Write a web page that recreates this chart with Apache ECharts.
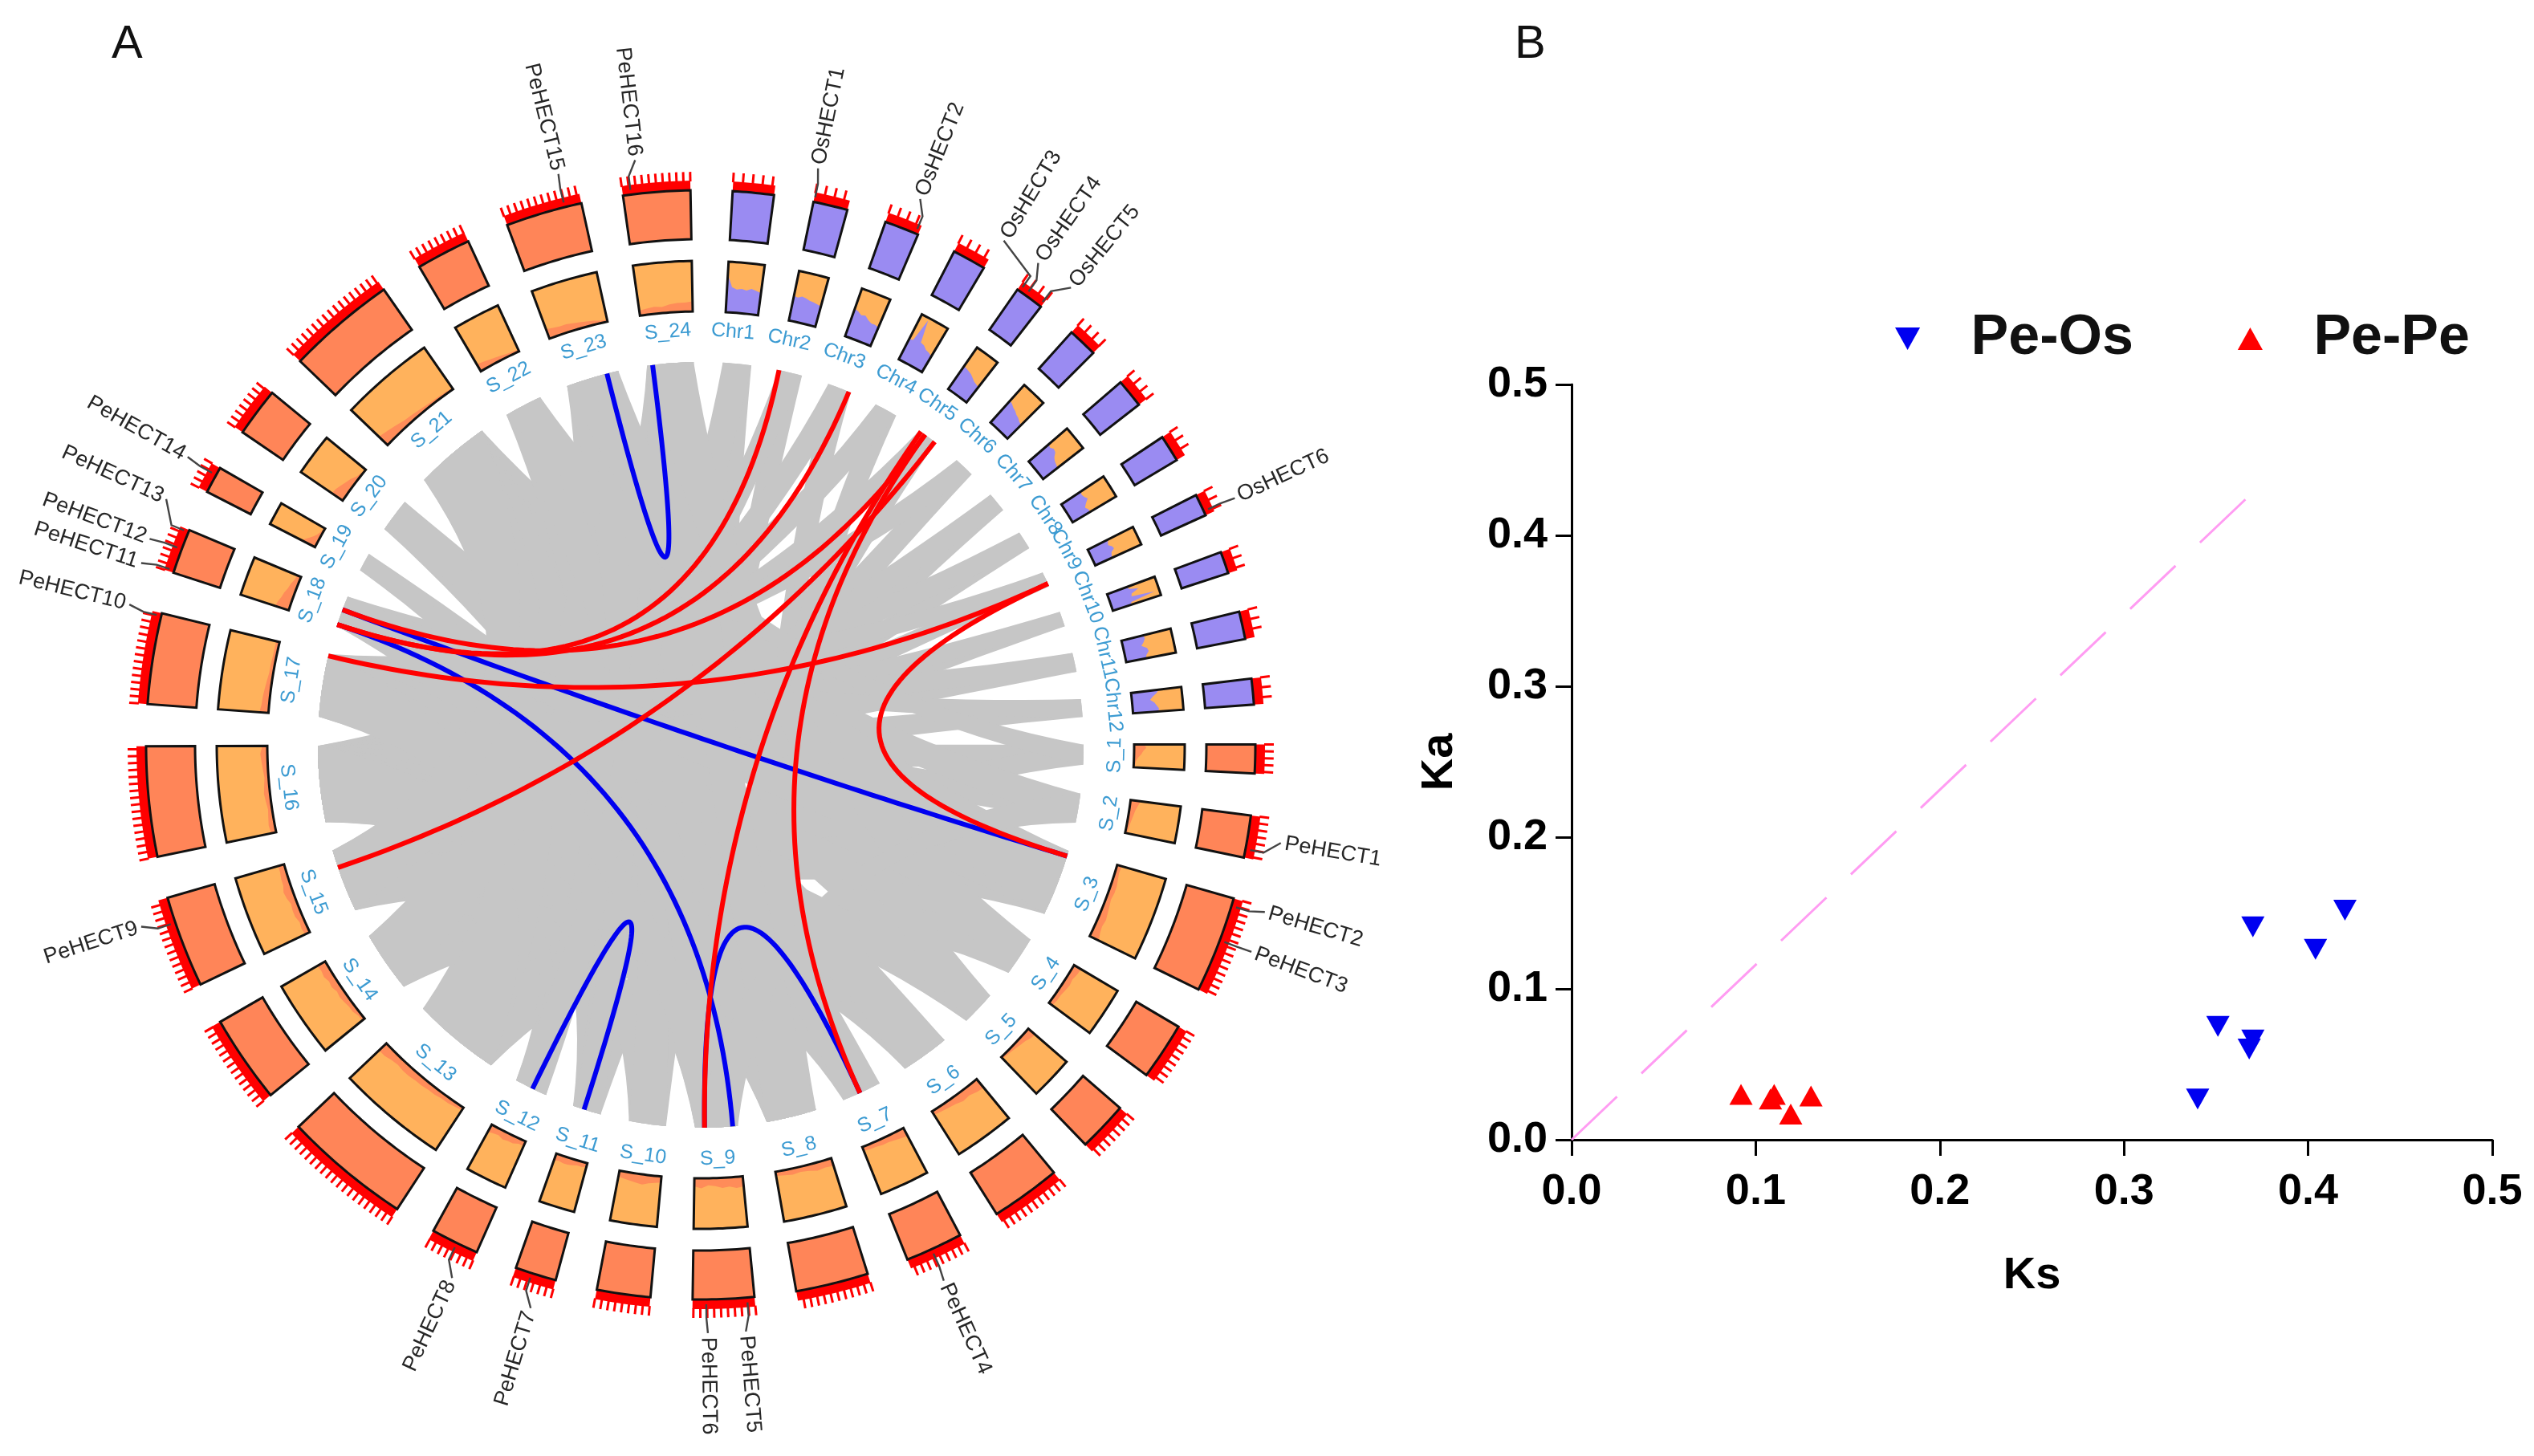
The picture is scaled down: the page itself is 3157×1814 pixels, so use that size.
<!DOCTYPE html>
<html><head><meta charset="utf-8">
<style>html,body{margin:0;padding:0;background:#fff}#c{width:3157px;height:1814px}</style>
<script src="https://cdn.jsdelivr.net/npm/echarts@6/dist/echarts.min.js"></script>
</head><body><div id="c"></div>
<script>
// ---------- Panel A data ----------
const sectorNames = ['Chr1','Chr2','Chr3','Chr4','Chr5','Chr6','Chr7','Chr8','Chr9','Chr10','Chr11','Chr12',
  'S_1','S_2','S_3','S_4','S_5','S_6','S_7','S_8','S_9','S_10','S_11','S_12','S_13','S_14','S_15','S_16','S_17','S_18','S_19','S_20','S_21','S_22','S_23','S_24'];
const sectorLengths = [43,36,36,35,30,31,30,28,23,23,29,27,
  30,44,101,60,52,73,60,76,64,56,43,50,133,92,96,115,95,47,28,51,114,57,80,70];
// fraction of the inner-track height taken by the second colour, along each sector
const innerProfile = [
 [.75,.5,.46,.48,.46,.5,.47,.44],[.5,.48,.52,.5,.47,.46,.44,.42],[.58,.55,.5,.52,.46,.42,.42,.4],[.45,.47,.95,.5,.48,.42,.4,.36],
 [.55,.54,.52,.5,.46,.42,.4,.38],[.58,.56,.52,.5,.46,.44,.4,.38],[.52,.5,.54,.52,.44,.4,.38,.36],[.46,.44,.46,.5,.42,.36,.4,.4],
 [.45,.42,.4,.46,.48,.4,.38,.36],[.42,.44,.62,.46,.44,.9,.4,.38],[.44,.46,.42,.36,.46,.48,.42,.4],[.55,.5,.42,.36,.44,.48,.52,.5],
 [.2,.24,.18,.14,.08,.04,.03,.03],[.2,.16,.12,.1,.08,.06,.05,.04],[.1,.08,.1,.12,.12,.1,.12,.14,.16,.14,.16,.2],[.16,.15,.12,.14,.12,.1,.1,.08],
 [.18,.16,.12,.1,.08,.06,.05,.04],[.22,.2,.16,.18,.14,.12,.1,.08],[.18,.16,.14,.12,.12,.1,.1,.08],[.16,.14,.16,.12,.1,.12,.1,.08],
 [.2,.22,.18,.2,.16,.14,.2,.16],[.12,.14,.16,.2,.18,.16,.14,.12],[.08,.1,.1,.12,.14,.14,.12,.14],[.1,.1,.14,.14,.16,.12,.14,.16],
 [.06,.08,.1,.1,.12,.12,.14,.14,.16,.16,.14,.16,.2,.2],[.06,.06,.1,.1,.12,.14,.12,.16,.14,.18,.16,.18],[.1,.12,.1,.14,.14,.12,.16,.18,.14,.14,.12,.12],[.1,.12,.1,.08,.1,.12,.1,.08,.1,.12,.14,.1],
 [.18,.15,.14,.12,.1,.08,.08,.07,.07,.07],[.28,.26,.22,.2,.16,.14,.1,.08],[.3,.24,.18,.12,.08,.05,.03,.02],[.26,.24,.2,.16,.12,.06,.03,.02],
 [.24,.2,.16,.12,.1,.08,.06,.05,.04,.03],[.16,.14,.12,.1,.08,.06,.05,.04],[.2,.18,.16,.16,.14,.12,.1,.08,.05,.04],[.1,.12,.14,.12,.16,.18,.18,.2]
];
// gene name, sector, position inside the sector (0..1)
const geneNames = ['PeHECT1','PeHECT2','PeHECT3','PeHECT4','PeHECT5','PeHECT6','PeHECT7','PeHECT8','PeHECT9','PeHECT10','PeHECT11','PeHECT12','PeHECT13','PeHECT14','PeHECT15','PeHECT16','OsHECT1','OsHECT2','OsHECT3','OsHECT4','OsHECT5','OsHECT6'];
const geneSectors = ['S_2','S_3','S_3','S_7','S_9','S_9','S_11','S_12','S_15','S_17','S_18','S_18','S_18','S_19','S_23','S_24','Chr2','Chr3','Chr5','Chr5','Chr5','Chr9'];
const genePositions = [.8,.08,.45,.55,.12,.78,.6,.45,.72,.97,.05,.55,.95,.7,.78,.12,.02,.92,.1,.35,.95,.8];
// collinear blocks drawn in grey
const greyLinks = [
 ['Chr1','S_9'],['Chr1','S_13'],['Chr2','S_10'],['Chr2','S_14'],['Chr3','S_8'],['Chr3','S_15'],['Chr4','S_9'],['Chr4','S_16'],
 ['Chr5','S_11'],['Chr5','S_16'],['Chr6','S_13'],['Chr6','S_17'],['Chr7','S_13'],['Chr7','S_15'],['Chr8','S_14'],['Chr8','S_16'],
 ['Chr9','S_15'],['Chr9','S_17'],['Chr10','S_15'],['Chr10','S_16'],['Chr11','S_16'],['Chr11','S_17'],['Chr12','S_16'],['Chr12','S_18'],
 ['S_1','S_16'],['S_1','S_13'],['S_2','S_17'],['S_2','S_21'],['S_3','S_16'],['S_3','S_14'],['S_3','S_21'],['S_4','S_17'],['S_4','S_13'],
 ['S_5','S_15'],['S_5','S_16'],['S_6','S_14'],['S_6','S_16'],['S_6','S_17'],['S_7','S_13'],['S_7','S_21'],['S_8','S_16'],['S_8','S_21'],['S_8','S_15'],
 ['S_9','S_17'],['S_9','S_14'],['S_9','S_21'],['S_10','S_16'],['S_10','S_23'],['S_11','S_17'],['S_11','S_22'],['S_12','S_15'],['S_12','S_23'],
 ['S_13','S_21'],['S_13','S_16'],['S_14','S_23'],['S_14','S_24'],['S_15','S_24'],['S_22','S_9'],['S_20','S_8'],['S_23','S_11'],['S_24','S_12'],
 ['S_20','S_5'],['S_18','S_9'],['S_18','S_3'],['S_19','S_6'],['S_19','S_8'],['S_20','S_6'],['S_21','S_15'],['S_22','S_3'],['S_23','S_4'],['S_24','S_8'],['S_24','S_5'],
 ['S_22','S_1'],['S_2','S_9']
];
const blueLinks = [['PeHECT15','PeHECT16'],['PeHECT7','PeHECT8'],['PeHECT6','PeHECT4'],['PeHECT5','PeHECT11'],['PeHECT2','PeHECT12']];
const redLinks = [['OsHECT1','PeHECT11'],['OsHECT2','PeHECT11'],['OsHECT4','PeHECT12'],['OsHECT5','PeHECT9'],['OsHECT6','PeHECT10'],['OsHECT6','PeHECT2'],['OsHECT3','PeHECT6'],['OsHECT4','PeHECT4']];

// ---------- Panel B data ----------
const tickValues = [0,0.1,0.2,0.3,0.4,0.5];
const peOsKs = [.34,.351,.368,.37,.37,.404,.42];
const peOsKa = [.027,.075,.060,.066,.141,.126,.152];
const pePeKs = [.092,.108,.11,.119,.13];
const pePeKa = [.03,.027,.03,.017,.029];
const refKs = [0,.37];
const refKa = [0,.4286];

// ---------- Layout (not data) ----------
const GAP_RICE=4.13, GAP_SCAF=4.36, START=3.3, UNIT=0.1, RIBBON_BEND=.36;
const R={chord:477,label:516,innerIn:540,innerOut:603,outerIn:630,outerOut:691,band:703,tick:714,lead:733,text:738};
const labelNudge={Chr1:-1,Chr2:-1.2,Chr3:-1,Chr4:-.8,Chr5:-1.5,Chr6:-1.7,Chr7:-1.7,Chr8:-1.4,Chr9:-2.5,Chr10:-1.7,Chr11:-.4};
const geneLabelAngles=[99.6,106.5,110.6,155.6,175.6,179.3,196.8,205,252,283.8,288,290.5,294.7,299.3,346,353.6,11.5,21.9,31,35,39,65.2];
const tickStepRice=10, tickStepScaffold=7;
const COL={outerS:'#FF8558',purple:'#9A8BF2',orange:'#FFB25C',red:'#FF0000',grey:'#C6C6C6',blue:'#0000F0',label:'#3C9BD2',ink:'#262626'};
const FF='"Liberation Sans", Arial, sans-serif';

// ---------- Derived sector geometry ----------
const unit=UNIT;
const sectors=[];let cur=START;
sectorNames.forEach((n,i)=>{const w=sectorLengths[i]*unit;sectors.push({name:n,a0:cur,a1:cur+w,len:sectorLengths[i],i});cur+=w+(n.startsWith('Chr')?GAP_RICE:GAP_SCAF);});
const byName={};sectors.forEach(s=>byName[s.name]=s);
const mid=s=>(s.a0+s.a1)/2;
const geneAngle={};geneNames.forEach((g,i)=>{const s=byName[geneSectors[i]];geneAngle[g]=s.a0+(s.a1-s.a0)*genePositions[i];});

function rad(d){return d*Math.PI/180;}
function toPolar(x,y){let t=Math.atan2(x,y)*180/Math.PI;if(t<0)t+=360;return [Math.hypot(x,y),t];}
function curve(a,b,r,k,n){ // quadratic bezier between two rim angles, in value space
  const ax=r*Math.sin(rad(a)),ay=r*Math.cos(rad(a)),bx=r*Math.sin(rad(b)),by=r*Math.cos(rad(b));
  const cx=k*(ax+bx)/2,cy=k*(ay+by)/2,out=[];
  for(let j=0;j<=n;j++){const t=j/n,u=1-t;out.push(toPolar(u*u*ax+2*u*t*cx+t*t*bx,u*u*ay+2*u*t*cy+t*t*by));}
  return out;
}
function arc(r,a0,a1){const n=Math.max(2,Math.ceil(Math.abs(a1-a0)/.5)),o=[];for(let j=0;j<=n;j++)o.push([r,a0+(a1-a0)*j/n]);return o;}
function norm(p){return [p[0],((p[1]%360)+360)%360];}

const series=[];
const polarBase={type:'custom',coordinateSystem:'polar',silent:true,animation:false,clip:false};
// grey ribbons
series.push(Object.assign({},polarBase,{name:'blocks',z:1,data:greyLinks.map(()=>[0,0]),
  renderItem(p,api){
    const l=greyLinks[p.dataIndex],A=byName[l[0]],B=byName[l[1]];
    const pts=[].concat(arc(R.chord,A.a0,A.a1),curve(A.a1,B.a0,R.chord,RIBBON_BEND,26),arc(R.chord,B.a0,B.a1),curve(B.a1,A.a0,R.chord,RIBBON_BEND,26));
    return {type:'polygon',shape:{points:pts.map(q=>api.coord(norm(q)))},style:{fill:COL.grey,stroke:null}};
  }}));
// coloured links
const colourLinks=blueLinks.map(l=>[l[0],l[1],COL.blue]).concat(redLinks.map(l=>[l[0],l[1],COL.red]));
series.push(Object.assign({},polarBase,{name:'links',z:3,data:colourLinks.map(()=>[0,0]),
  renderItem(p,api){
    const l=colourLinks[p.dataIndex];
    const pts=curve(geneAngle[l[0]],geneAngle[l[1]],R.chord,0,60);
    return {type:'polyline',shape:{points:pts.map(q=>api.coord(norm(q)))},style:{stroke:l[2],lineWidth:6,fill:null}};
  }}));
// tracks
series.push(Object.assign({},polarBase,{name:'tracks',z:4,data:sectors.map(()=>[0,0]),
  renderItem(p,api){
    const s=sectors[p.dataIndex],isChr=s.name.startsWith('Chr'),c=q=>api.coord(norm(q));
    const kids=[];
    const box=(r0,r1)=>[].concat(arc(r0,s.a0,s.a1),arc(r1,s.a1,s.a0)).map(c);
    kids.push({type:'polygon',shape:{points:box(R.outerOut,R.band)},style:{fill:COL.red}});
    const step=isChr?tickStepRice:tickStepScaffold;
    for(let v=0;v<=s.len+.01;v+=step){
      const a=s.a0+v*unit;
      const P=c([R.band-1,a]),Q=c([R.tick,a]);
      kids.push({type:'line',shape:{x1:P[0],y1:P[1],x2:Q[0],y2:Q[1]},style:{stroke:COL.red,lineWidth:3}});
    }
    kids.push({type:'polygon',shape:{points:box(R.outerIn,R.outerOut)},style:{fill:isChr?COL.purple:COL.outerS,stroke:'#111',lineWidth:3,lineJoin:'miter'}});
    kids.push({type:'polygon',shape:{points:box(R.innerIn,R.innerOut)},style:{fill:COL.orange}});
    const prof=innerProfile[s.i],n=prof.length,pts=arc(R.innerIn,s.a0,s.a1);
    for(let j=n-1;j>=0;j--){pts.push([R.innerIn+(R.innerOut-R.innerIn)*prof[j],s.a0+(s.a1-s.a0)*j/(n-1)]);}
    kids.push({type:'polygon',shape:{points:pts.map(c)},style:{fill:isChr?COL.purple:COL.outerS,opacity:isChr?1:.85}});
    kids.push({type:'polygon',shape:{points:box(R.innerIn,R.innerOut)},style:{fill:null,stroke:'#111',lineWidth:3}});
    const th=mid(s)+(labelNudge[s.name]||0),P=c([R.label,th]);
    const rotDeg=(th<90)?th:(th<270?th-180:th-360);
    kids.push({type:'text',x:P[0],y:P[1],rotation:-rotDeg*Math.PI/180,
      style:{text:s.name,fill:COL.label,font:'25px '+FF,align:'center',verticalAlign:'middle',textAlign:'center',textVerticalAlign:'middle'}});
    return {type:'group',children:kids};
  }}));
// gene labels
series.push(Object.assign({},polarBase,{name:'genes',z:5,data:geneNames.map(()=>[0,0]),
  renderItem(p,api){
    const i=p.dataIndex,g=geneNames[i],a=geneAngle[g],la=geneLabelAngles[i],c=q=>api.coord(norm(q));
    const right=la<180,P=c([R.text,la]);
    const deg=right?la-90:la-270;
    return {type:'group',children:[
      {type:'polyline',shape:{points:[c([R.band-6,a]),c([R.tick,a]),c([R.lead,la])]},style:{stroke:'#444',lineWidth:2.4,fill:null}},
      {type:'text',x:P[0],y:P[1],rotation:-deg*Math.PI/180,
       style:{text:g,fill:COL.ink,font:'27px '+FF,align:right?'left':'right',verticalAlign:'middle',textAlign:right?'left':'right',textVerticalAlign:'middle'}}
    ]};
  }}));
// panel B
series.push({type:'line',name:'y=x',xAxisIndex:0,yAxisIndex:0,data:refKs.map((v,i)=>[v,refKa[i]]),symbol:'none',silent:true,animation:false,
  lineStyle:{color:'#FF9CF2',width:3,type:[78,42]},z:2});
series.push({type:'scatter',name:'Pe-Os',xAxisIndex:0,yAxisIndex:0,data:peOsKs.map((v,i)=>[v,peOsKa[i]]),symbol:'triangle',symbolRotate:180,symbolSize:[29,26],itemStyle:{color:COL.blue,opacity:1},animation:false,z:3});
series.push({type:'scatter',name:'Pe-Pe',xAxisIndex:0,yAxisIndex:0,data:pePeKs.map((v,i)=>[v,pePeKa[i]]),symbol:'triangle',symbolSize:[29,26],itemStyle:{color:COL.red,opacity:1},animation:false,z:3});

const axisCommon={type:'value',min:0,max:.5,interval:.1,splitLine:{show:false},
  axisLine:{show:true,onZero:false,lineStyle:{color:'#000',width:3}},
  axisTick:{show:true,length:20,lineStyle:{color:'#000',width:3}},
  axisLabel:{color:'#000',fontFamily:FF,fontWeight:'bold',fontSize:54,formatter:v=>tickValues[Math.round(v*10)].toFixed(1)},
  nameLocation:'middle',nameTextStyle:{color:'#000',fontFamily:FF,fontWeight:'bold',fontSize:56}};

const option={
  backgroundColor:'#fff',
  title:[
    {text:'A',left:134,top:22,textStyle:{fontFamily:FF,fontWeight:'normal',fontSize:58,color:'#111'}},
    {text:'B',left:1882,top:22,textStyle:{fontFamily:FF,fontWeight:'normal',fontSize:58,color:'#111'}}
  ],
  polar:{center:[873,928],radius:830},
  angleAxis:{type:'value',min:0,max:360,startAngle:90,clockwise:true,show:false},
  radiusAxis:{type:'value',min:0,max:830,show:false},
  grid:{left:1958,top:479,width:1147,height:941,containLabel:false},
  xAxis:Object.assign({},axisCommon,{name:'Ks',nameGap:142,axisLabel:Object.assign({},axisCommon.axisLabel,{margin:38})}),
  yAxis:Object.assign({},axisCommon,{name:'Ka',nameGap:136,axisLabel:Object.assign({},axisCommon.axisLabel,{margin:30})}),
  legend:{show:true,left:2356,top:382,orient:'horizontal',itemWidth:32,itemHeight:28,itemGap:130,
    data:[{name:'Pe-Os',icon:'path://M0,0L10,0L5,9Z'},{name:'Pe-Pe',icon:'path://M5,0L10,9L0,9Z'}],
    selectedMode:false,textStyle:{fontFamily:FF,fontWeight:'bold',fontSize:70,color:'#111',padding:[0,0,0,58]}},
  series
};
const chart=echarts.init(document.getElementById('c'),null,{renderer:'canvas',width:3157,height:1814});
chart.setOption(option);
</script></body></html>
